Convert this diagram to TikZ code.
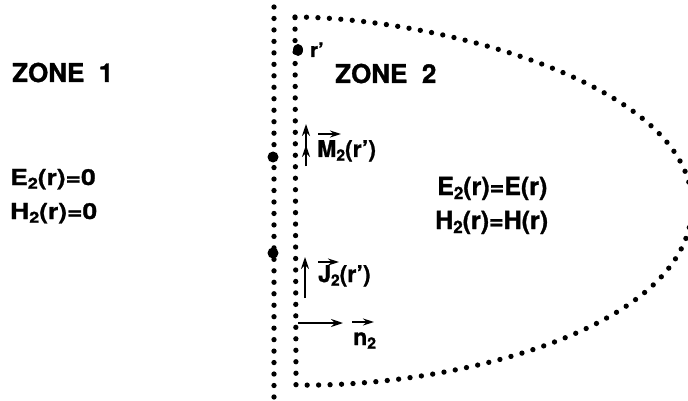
\documentclass[tikz,border=0pt]{standalone}
\usepackage{fontspec}
\usepackage{graphicx}
\setmainfont{TeX Gyre Heros}[FakeBold=1.2]
\newfontfamily\hvwide[FakeStretch=1.2,FakeBold=1.2]{TeX Gyre Heros}
\usetikzlibrary{arrows.meta}
\newcommand\sbt[1]{\raisebox{-0.16em}{\scalebox{0.68}{#1}}}
\begin{document}
\begin{tikzpicture}[x=1pt,y=-1pt,
  dotline/.style={line width=5.3pt, line cap=round, dash pattern=on 0pt off 11.47pt},
  bigdot/.style={fill=black},
  vecarr/.style={line width=1.6pt, -{Stealth[length=12pt,width=8pt]}},
  ovarr/.style={line width=1.5pt, -{Stealth[length=11pt,width=7pt]}},
  zonelbl/.style={inner sep=0pt, anchor=base west, font=\fontsize{26}{30}\selectfont\bfseries},
  eqwide/.style={inner sep=0pt, anchor=base west, font=\hvwide\fontsize{22}{26}\selectfont\bfseries},
  eqlbl/.style={inner sep=0pt, anchor=base west, font=\fontsize{25}{30}\selectfont\bfseries},
  veclbl/.style={inner sep=0pt, anchor=base west, font=\fontsize{23}{28}\selectfont\bfseries},
  rlbl/.style={inner sep=0pt, anchor=base west, font=\fontsize{20}{24}\selectfont\bfseries}]
\useasboundingbox (0,0) rectangle (688,401);
\clip (0,0) rectangle (688,401);

% outer boundary (dotted vertical line)
\coordinate (otop) at (274,7);
\coordinate (obot) at (274,397);
\draw[dotline] (otop) -- (obot);

% inner dotted closed surface
\draw[dotline] (295,17) .. controls (440,18) and (692,85) .. (692,205)
  .. controls (692,330) and (450,388) .. (296,385) -- cycle;

% big dots
\fill[bigdot] (273,157) circle (5.5pt);
\fill[bigdot] (273,253) circle (5.5pt);
\fill[bigdot] (298,50) ellipse (5pt and 6pt);

% labels
\node[rlbl] (rp) at (310,57) {r'};
\node[zonelbl] (z1) at (12,82) {ZONE\ \ 1};
\node[zonelbl] (z2) at (335,83) {ZONE\ \ 2};
\node[eqwide] (e1) at (10,185) {E\sbt{2}(r)=0};
\node[eqwide] (h1) at (10,219) {H\sbt{2}(r)=0};
\node[eqlbl] (e2) at (437,195) {E\sbt{2}(r)=E(r)};
\node[eqlbl] (h2) at (435,229) {H\sbt{2}(r)=H(r)};
\node[veclbl] (mt) at (317,157) {M\sbt{2}(r')};
\node[veclbl] (jt) at (318,282) {J\sbt{2}(r')};
\node[veclbl] (nt) at (353,345) {n\sbt{2}};

% M vector (double head)
\coordinate (m0) at (306,166);
\coordinate (m1) at (306,124);
\coordinate (m2) at (306,145);
\draw[vecarr] (m0) -- (m1);
\draw[vecarr] (m0) -- (m2);
% J vector
\coordinate (j0) at (305,298);
\coordinate (j1) at (305,257);
\draw[vecarr] (j0) -- (j1);
% n vector
\coordinate (n0) at (298,323);
\coordinate (n1) at (343,323);
\draw[vecarr] (n0) -- (n1);

% over-arrows on vector symbols
\draw[ovarr] (318,134) -- (341,134);
\draw[ovarr] (318,262) -- (339,262);
\draw[ovarr] (352,322) -- (374,322);
\end{tikzpicture}
\end{document}
